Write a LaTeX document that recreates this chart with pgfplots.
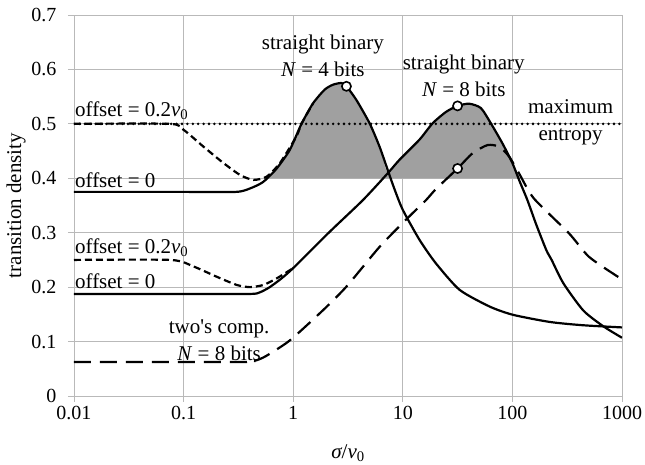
\documentclass[border=0pt]{standalone}
\usepackage{fontspec}
\setmainfont{Liberation Serif}
\usepackage{pgfplots}
\pgfplotsset{compat=1.18}
\definecolor{fillgray}{RGB}{160,160,160}
\definecolor{gridgray}{RGB}{185,185,185}
\begin{document}
\begin{tikzpicture}[font=\fontsize{20}{26}\selectfont]
\begin{axis}[
  xmode=log, scale only axis, width=548pt, height=381pt,
  xmin=0.01, xmax=1000, ymin=0, ymax=0.7,
  xtick={0.01,0.1,1,10,100,1000}, xticklabels={0.01,0.1,1,10,100,1000},
  ytick={0,0.1,0.2,0.3,0.4,0.5,0.6,0.7}, yticklabels={0,0.1,0.2,0.3,0.4,0.5,0.6,0.7},
  xminorticks=false,
  grid=major, major grid style={gridgray, line width=0.8pt},
  axis line style={gridgray, line width=0.8pt},
  tick style={gridgray, line width=0.8pt},
  tick align=outside, major tick length=6pt,
  axis x line*=bottom, axis y line*=left,
  yticklabel style={xshift=-8pt},
  xticklabel style={yshift=-1pt},
  xlabel={{\itshape σ}/{\itshape v}\textsubscript{0}},
  ylabel={transition density},
  xlabel style={at={(axis description cs:0.5,0)}, anchor=center, yshift=-57pt, font=\fontsize{21}{26}\selectfont},
  ylabel style={at={(axis description cs:0,0.5)}, anchor=center, yshift=58pt, font=\fontsize{21}{26}\selectfont},
]
% shaded region
\addplot[fill=fillgray, draw=none, smooth, tension=0.4] coordinates {
 (0.6,0.4) (0.7,0.417) (0.93,0.452) (1.19,0.50) (1.52,0.538) (1.94,0.563) (2.31,0.572) (2.75,0.575) (3.06,0.569) (3.77,0.544) (4.98,0.501) (6.14,0.458) (7.3,0.41)
 (9.33,0.434) (14.2,0.471) (18.7,0.501) (24.8,0.522) (31.6,0.533) (40.4,0.537) (51.6,0.529) (63.6,0.501) (81.2,0.464) (100,0.428) (118,0.4)
} -- cycle;
% maximum entropy
\addplot[black, line width=2.8pt, line cap=round, dash pattern=on 0pt off 5.4pt] coordinates {(0.01,0.5) (1000,0.5)};
% offset 0.2 v0, N=4
\addplot[black, line width=2.2pt, dash pattern=on 7pt off 4pt, smooth, tension=0.4] coordinates {
 (0.01,0.5) (0.075,0.5) (0.1,0.489) (0.152,0.458) (0.231,0.428) (0.328,0.406) (0.433,0.397) (0.573,0.403) (0.757,0.428) (1.07,0.477) (1.19,0.50) (1.52,0.538)
};
% offset 0.2 v0, N=8
\addplot[black, line width=2.2pt, dash pattern=on 7pt off 4pt, smooth, tension=0.4] coordinates {
 (0.01,0.25) (0.076,0.25) (0.123,0.238) (0.201,0.219) (0.306,0.204) (0.404,0.2) (0.534,0.204) (0.706,0.216) (1.0,0.235)
};
% two's complement N=8
\addplot[black, line width=2.2pt, dash pattern=on 17pt off 9pt, smooth, tension=0.4] coordinates {
 (0.01,0.0625) (0.35,0.0625) (0.45,0.065) (0.56,0.073) (0.93,0.102) (1.88,0.158) (3.06,0.201) (6.14,0.274) (10.7,0.324) (16.3,0.36) (20,0.38) (31.6,0.418) (43.3,0.446) (59.3,0.461) (75.7,0.458) (93.3,0.44) (115,0.409) (157,0.363) (328,0.299) (498,0.256) (871,0.222) (1000,0.215)
};
% straight binary N=4
\addplot[black, line width=2.2pt, smooth, tension=0.4] coordinates {
 (0.01,0.375) (0.1,0.375) (0.3,0.375) (0.4,0.381) (0.53,0.393) (0.7,0.417) (0.93,0.452) (1.19,0.50) (1.52,0.538) (1.94,0.563) (2.31,0.572) (2.75,0.575) (3.06,0.569) (3.77,0.544) (4.98,0.501) (6.14,0.458) (7.35,0.413) (8.4,0.38) (10,0.342) (14.2,0.287) (20,0.244) (33,0.195) (62.5,0.164) (102,0.149) (220,0.136) (440,0.130) (1000,0.126)
};
% straight binary N=8
\addplot[black, line width=2.2pt, smooth, tension=0.4] coordinates {
 (0.01,0.1875) (0.1,0.1875) (0.4,0.1875) (0.49,0.19) (0.6,0.199) (0.76,0.214) (1.0,0.235) (2.16,0.302) (4.33,0.36) (7.35,0.41) (9.33,0.434) (14.2,0.471) (18.7,0.501) (24.8,0.522) (31.6,0.533) (40.4,0.537) (51.6,0.529) (63.6,0.501) (81.2,0.464) (100,0.428) (115,0.397) (137,0.36) (165,0.315) (204,0.268) (228,0.25) (292,0.207) (444,0.157) (676,0.128) (1000,0.107)
};
% markers
\addplot[only marks, mark=*, mark size=4.6pt, mark options={fill=white, draw=black, line width=1.6pt}] coordinates {
 (3.06,0.569) (31.6,0.533) (31.6,0.418)
};
% labels
\begin{scope}[every node/.style={font=\fontsize{21}{27}\selectfont, inner sep=0pt}]
\node[anchor=west] at (axis cs:0.0102,0.524) {offset = 0.2\textit{v}\textsubscript{0}};
\node[anchor=west] at (axis cs:0.0102,0.397) {offset = 0};
\node[anchor=west] at (axis cs:0.0102,0.272) {offset = 0.2\textit{v}\textsubscript{0}};
\node[anchor=west] at (axis cs:0.0102,0.21) {offset = 0};
\node[align=center] at (axis cs:0.211,0.103) {two\textquotesingle s comp.\\\textit{N} = 8 bits};
\node[align=center] at (axis cs:1.866,0.625) {straight binary\\\textit{N} = 4 bits};
\node[align=center] at (axis cs:36,0.588) {straight binary\\\textit{N} = 8 bits};
\node[align=center] at (axis cs:340,0.502) {maximum\\entropy};
\end{scope}
\end{axis}
\pgfresetboundingbox
\path[use as bounding box] ([xshift=-74pt,yshift=-69pt]current axis.south west) rectangle ([xshift=23pt,yshift=15pt]current axis.north east);
\end{tikzpicture}
\end{document}
